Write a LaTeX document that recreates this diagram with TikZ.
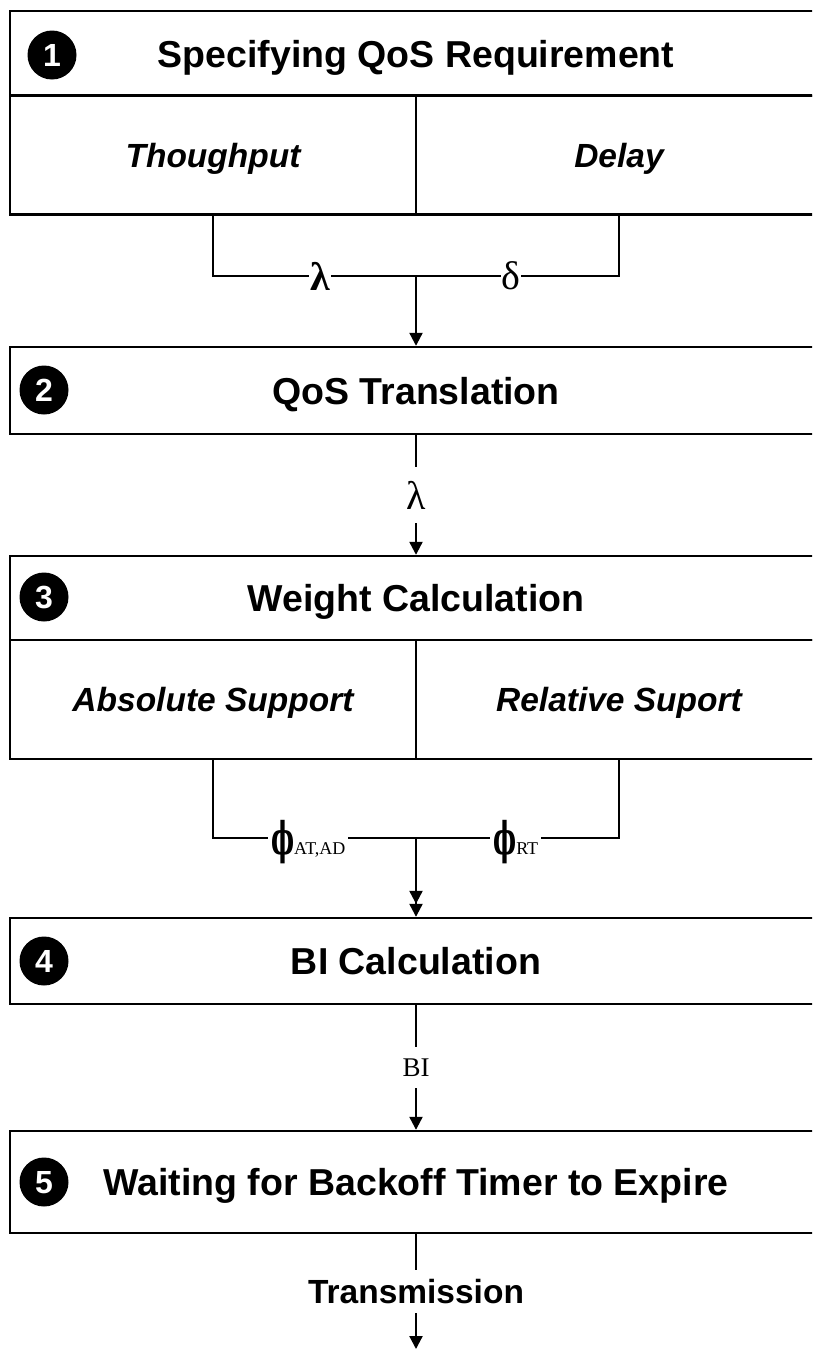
\documentclass[tikz,border=0pt]{standalone}
\usepackage{fontspec}
\usepackage{graphicx}
\setmainfont{Liberation Serif}
\setsansfont{Liberation Sans}
\newfontfamily\phifont{DejaVu Serif}
\usetikzlibrary{arrows.meta}
\newcommand{\myphi}{\scalebox{0.68}[1.25]{\phifont\bfseries\fontsize{36}{36}\selectfont ϕ}}
\tikzset{
  box/.style={draw, line width=2.4pt, inner sep=0pt, minimum width=812pt,
    font=\sffamily\bfseries\fontsize{37.5}{40}\selectfont, text height=27pt, text depth=0pt},
  subbox/.style={draw, line width=2.4pt, inner sep=0pt, minimum width=406pt, minimum height=119pt,
    font=\sffamily\bfseries\itshape\fontsize{33.5}{36}\selectfont, text height=24pt, text depth=0pt},
  num/.style={circle, fill=black, text=white, inner sep=0pt, minimum size=49pt,
    font=\sffamily\bfseries\fontsize{32}{32}\selectfont, text height=23pt, text depth=0pt},
  wire/.style={line width=2.2pt},
  arr/.style={wire, -{Triangle[length=13pt,width=13pt]}},
  darr/.style={wire, -{Triangle[length=13pt,width=13pt,sep=0pt]Triangle[length=13pt,width=13pt]}},
  glbl/.style={fill=white, inner xsep=1pt, inner ysep=0pt, font=\fontsize{40}{40}\selectfont},
  vlbl/.style={fill=white, inner xsep=2pt, inner ysep=0pt},
  phl/.style={fill=white, inner xsep=3pt, inner ysep=0pt},
}
\begin{document}
\begin{tikzpicture}[x=1pt,y=-1pt]
\clip (0,0) rectangle (812,1349);
\fill[white] (0,0) rectangle (812,1349);
% Box 1
\node[box, minimum height=85pt] (b1) at (416,53.5) {Specifying QoS Requirement};
\node[subbox] (b1a) at (213,155) {Thoughput};
\node[subbox] (b1b) at (619,155) {Delay};
\node[num] (n1) at (52,55) {1};
% Box 2
\node[box, minimum height=87pt] (b2) at (416,390.5) {QoS Translation};
\node[num] (n2) at (44,390) {2};
% Box 3
\node[box, minimum height=84pt] (b3) at (416,598) {Weight Calculation};
\node[subbox] (b3a) at (213,699.5) {Absolute Support};
\node[subbox] (b3b) at (619,699.5) {Relative Suport};
\node[num] (n3) at (44,597) {3};
% Box 4
\node[box, minimum height=86pt] (b4) at (416,961) {BI Calculation};
\node[num] (n4) at (44,961) {4};
% Box 5
\node[box, minimum height=102pt] (b5) at (416,1182) {Waiting for Backoff Timer to Expire};
\node[num] (n5) at (44,1182) {5};
% Connectors 1 -> 2
\coordinate (j1) at (416,276);
\draw[wire] (b1a.south) |- (j1) -| (b1b.south);
\draw[arr] (j1) -- (b2.north);
\node[glbl, font=\bfseries\fontsize{40}{40}\selectfont] (lam1) at (320,276) {λ};
\node[glbl] (del1) at (511,276) {δ};
% 2 -> 3
\draw[arr] (b2.south) -- (b3.north);
\node[vlbl, minimum height=56pt, font=\fontsize{40}{40}\selectfont] (lam2) at (416,495) {λ};
% 3 -> 4
\coordinate (j3) at (416,838);
\draw[wire] (b3a.south) |- (j3) -| (b3b.south);
\draw[darr] (j3) -- (b4.north);
\node[phl, anchor=base west] (phi1) at (268,854) {\myphi{\fontsize{18}{18}\selectfont AT,AD}};
\node[phl, anchor=base west] (phi2) at (490,854) {\myphi{\fontsize{18}{18}\selectfont RT}};
% 4 -> 5
\draw[arr] (b4.south) -- (b5.north);
\node[vlbl, minimum height=41pt, font=\fontsize{27}{27}\selectfont] (bi) at (416,1067.5) {BI};
% 5 -> out
\coordinate (out) at (416,1349);
\draw[arr] (b5.south) -- (out);
\node[vlbl, minimum height=43pt, font=\sffamily\bfseries\fontsize{33.5}{36}\selectfont, text height=24pt, text depth=0pt] (tx) at (416,1291.5) {Transmission};
\end{tikzpicture}
\end{document}
